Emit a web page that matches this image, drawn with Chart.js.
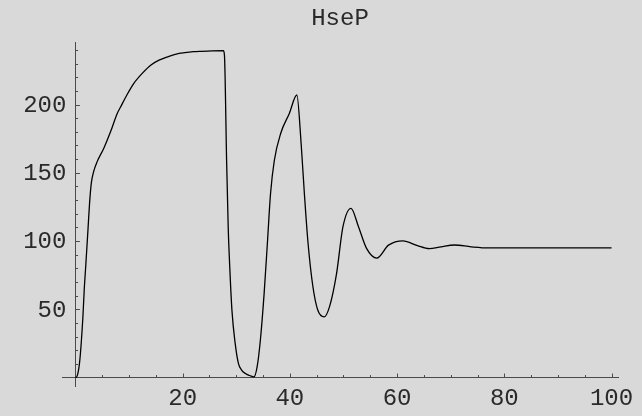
<!DOCTYPE html>
<html lang="en">
<head>
    <meta charset="UTF-8">
    <title>HseP</title>
    <script src="https://cdn.jsdelivr.net/npm/chart.js@4"></script>
    <style>
        body {
            margin: 0;
            background: #d9d9d9;
        }
        canvas {
            display: block;
        }
    </style>
</head>
<body>
    <canvas id="hsepChart" width="642" height="416"></canvas>

    <script>
        // values (time, HseP)
        const timeValues = [0, 0.26, 0.76, 1.08, 1.4, 1.64, 1.96, 2.34, 2.64, 2.96, 3.4, 4.04, 5.3, 6.55, 7.8, 8.4, 9.6,
            10.9, 12.5, 14.1, 15.6, 17.2, 18.8, 20.4, 22, 23.5, 25.5, 27.6, 27.8, 28.2, 28.5, 28.8, 29.2, 29.8, 30.4,
            31, 31.7, 32.5, 33.3, 33.9, 34.5, 35.2, 35.8, 36.4, 37.1, 38.3, 39.9, 41.3, 42.1, 42.7, 43.4, 44.3, 45.2,
            46.4, 47.4, 48.7, 49.9, 51.4, 52.8, 54.3, 56.2, 58.4, 61.1, 63.8, 66, 68.2, 70.7, 73.8, 77, 85, 100];
        const hsepValues = [0, 0.6, 10.4, 25, 44.5, 64, 83.7, 108, 127.6, 142.3, 150.8, 158, 168, 180, 193.5, 198, 207,
            215.5, 223, 229, 232.5, 235, 237, 238, 238.7, 239, 239.3, 239.4, 236, 159, 110, 80, 49, 25, 10.4,
            5.5, 3, 1.5, 0.5, 8, 27.5, 61.7, 98, 135, 159, 179, 193.5, 207, 171.5, 135, 98, 66.5, 49.5,
            44.5, 52, 76, 110.5, 124, 110.5, 94.6, 87.5, 97, 100.2, 96.6, 94.4, 95.8, 97.1, 95.8, 95, 95, 95];

        const xTickValues = [20, 40, 60, 80, 100];
        const yTickValues = [50, 100, 150, 200];

        const axisColor = '#4a4a4a';
        const textColor = '#2a2a2a';
        const labelFont = { family: "'Liberation Mono', 'DejaVu Sans Mono', monospace", size: 24, weight: 'normal' };

        // tick marks pointing into the plot, plus the y labels left of the x=0 axis
        const innerTicks = {
            id: 'innerTicks',
            afterDraw(chart) {
                const ctx = chart.ctx;
                const xs = chart.scales.x;
                const ys = chart.scales.y;
                const x0 = xs.getPixelForValue(0);
                const y0 = ys.getPixelForValue(0);
                ctx.save();
                ctx.strokeStyle = axisColor;
                ctx.lineWidth = 1;
                ctx.beginPath();
                for (let v = 5; v <= 100; v += 5) {
                    const px = Math.round(xs.getPixelForValue(v)) + 0.5;
                    const len = v % 20 === 0 ? 4 : 2.5;
                    ctx.moveTo(px, y0);
                    ctx.lineTo(px, y0 - len);
                }
                for (let v = 10; v <= 240; v += 10) {
                    const py = Math.round(ys.getPixelForValue(v)) + 0.5;
                    const len = v % 50 === 0 ? 4.5 : 2.7;
                    ctx.moveTo(x0, py);
                    ctx.lineTo(x0 + len, py);
                }
                ctx.stroke();

                ctx.fillStyle = textColor;
                ctx.font = labelFont.size + 'px ' + labelFont.family;
                ctx.textAlign = 'right';
                ctx.textBaseline = 'middle';
                yTickValues.forEach(v => {
                    ctx.fillText(String(v), x0 - 9, ys.getPixelForValue(v) + 1);
                });
                ctx.restore();
            }
        };

        const ctx = document.getElementById('hsepChart').getContext('2d');
        new Chart(ctx, {
            type: 'line',
            data: {
                datasets: [{
                    label: 'HseP',
                    data: timeValues.map((t, i) => ({ x: t, y: hsepValues[i] })),
                    borderColor: '#000',
                    borderWidth: 1.3,
                    pointRadius: 0,
                    fill: false,
                    cubicInterpolationMode: 'monotone'
                }]
            },
            options: {
                responsive: false,
                animation: false,
                layout: {
                    padding: { left: 62, right: 24, top: 0, bottom: 29.3 }
                },
                plugins: {
                    legend: { display: false },
                    tooltip: { enabled: false },
                    title: {
                        display: true,
                        text: 'HseP',
                        color: textColor,
                        font: labelFont,
                        padding: { top: 4, bottom: 9.5 }
                    }
                },
                scales: {
                    x: {
                        type: 'linear',
                        position: { y: 0 },
                        min: -2.5,
                        max: 101.2,
                        afterBuildTicks: scale => {
                            scale.ticks = xTickValues.map(v => ({ value: v }));
                        },
                        grid: { display: false, drawTicks: false },
                        border: { display: true, color: axisColor, width: 1 },
                        ticks: {
                            color: textColor,
                            font: labelFont,
                            padding: 7,
                            maxRotation: 0,
                            autoSkip: false
                        }
                    },
                    y: {
                        type: 'linear',
                        position: { x: 0 },
                        min: -6.7,
                        max: 245.6,
                        afterBuildTicks: scale => {
                            scale.ticks = yTickValues.map(v => ({ value: v }));
                        },
                        grid: { display: false, drawTicks: false },
                        border: { display: true, color: axisColor, width: 1 },
                        ticks: { display: false }
                    }
                }
            },
            plugins: [innerTicks]
        });
    </script>
</body>
</html>
